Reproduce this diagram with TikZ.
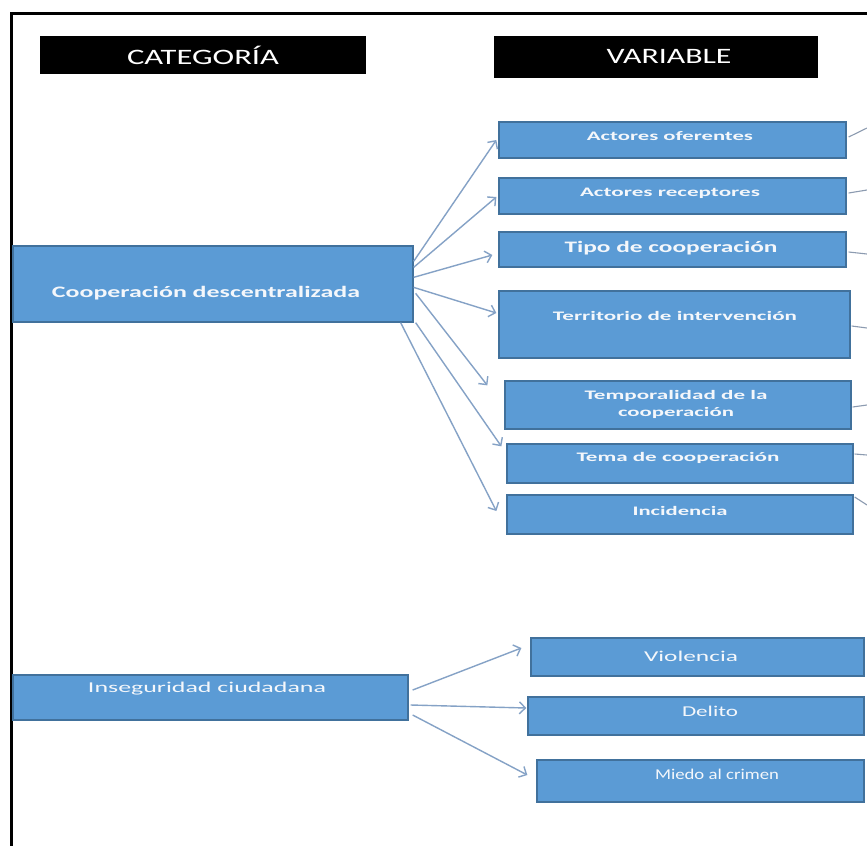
\documentclass[tikz,border=0pt]{standalone}
\usepackage{fontspec}
\setmainfont{Carlito}
\usetikzlibrary{arrows.meta,calc,fit}
\definecolor{boxfill}{HTML}{5B9BD5}
\definecolor{boxline}{HTML}{41719C}
\definecolor{arrcol}{HTML}{85A2C6}
\definecolor{stubcol}{HTML}{8C9BB0}
\definecolor{txtcol}{HTML}{F4F7FB}
\newcommand{\sw}[2]{\resizebox{#1}{\height}{#2}}
\begin{document}
\begin{tikzpicture}[x=1pt,y=-1pt,
  bluebox/.style={draw=boxline, fill=boxfill, line width=1.3pt, inner sep=0pt},
  headbox/.style={fill=black, inner sep=0pt},
  lbl/.style={text=txtcol, inner sep=0pt, font=\bfseries\fontsize{13}{17}\selectfont, align=center},
  hlbl/.style={text=white, inner sep=0pt, font=\fontsize{22}{26}\selectfont},
  rlbl/.style={text=txtcol, inner sep=0pt, font=\fontsize{15}{18}\selectfont},
  arr/.style={draw=arrcol, line width=1.4pt, -{Straight Barb[length=6pt,width=12pt,line width=1.4pt]}},
  stub/.style={draw=stubcol, line width=1.1pt}]
\path[use as bounding box] (0,0) rectangle (867,846);
\fill[white] (0,0) rectangle (867,846);
% frame
\draw[line width=3pt] (867,13) -- (11.5,13) -- (11.5,846);
% headers
\node[headbox, fit={(40,36) (366,74)}] (hcat) {};
\node[hlbl] (tcat) at (203,55) {\sw{152pt}{CATEGORÍA}};
\node[headbox, fit={(494,36) (818,78)}] (hvar) {};
\node[hlbl] (tvar) at (669,56) {\sw{125pt}{VARIABLE}};
% categories
\node[bluebox, fit={(13,246) (413,322)}] (coop) {};
\node[lbl, font=\bfseries\fontsize{16}{18}\selectfont] (tcoop) at (206,293) {\sw{308pt}{Cooperación descentralizada}};
\node[bluebox, fit={(13,675) (408,720)}] (inseg) {};
\node[rlbl] (tinseg) at (207,689) {\sw{238pt}{Inseguridad ciudadana}};
% variables (top)
\node[bluebox, fit={(499,122) (846,158)}] (ofer) {};
\node[lbl] (tofer) at (670,136) {\sw{166pt}{Actores oferentes}};
\node[bluebox, fit={(499,178) (846,214)}] (recep) {};
\node[lbl] (trecep) at (670,193) {\sw{180pt}{Actores receptores}};
\node[bluebox, fit={(499,232) (846,267)}] (tipo) {};
\node[lbl, font=\bfseries\fontsize{16}{18}\selectfont] (ttipo) at (671,248) {\sw{213pt}{Tipo de cooperación}};
\node[bluebox, fit={(499,291) (850,358)}] (terr) {};
\node[lbl] (tterr) at (675,316) {\sw{244pt}{Territorio de intervención}};
\node[bluebox, fit={(505,381) (851,429)}] (temp) {};
\node[lbl] (ttemp) at (676,404) {\sw{183pt}{Temporalidad de la}\\\sw{116pt}{cooperación}};
\node[bluebox, fit={(507,444) (853,483)}] (tema) {};
\node[lbl] (ttema) at (678,458) {\sw{203pt}{Tema de cooperación}};
\node[bluebox, fit={(507,495) (853,534)}] (inc) {};
\node[lbl] (tinc) at (680,511) {\sw{95pt}{Incidencia}};
% variables (bottom)
\node[bluebox, fit={(531,638) (864,676)}] (viol) {};
\node[rlbl] (tviol) at (691,656) {\sw{94pt}{Violencia}};
\node[bluebox, fit={(528,697) (864,735)}] (del) {};
\node[rlbl] (tdel) at (710,711) {\sw{56pt}{Delito}};
\node[bluebox, fit={(537,760) (864,802)}] (miedo) {};
\node[rlbl] (tmiedo) at (717,774) {\sw{124pt}{Miedo al crimen}};
% arrows top
\draw[arr] ($(coop.north east)+(0,16)$) -- ($(ofer.west)+(-2,0)$);
\draw[arr] ($(coop.north east)+(0,22)$) -- ($(recep.west)+(-2,1)$);
\draw[arr] ($(coop.north east)+(0,32)$) -- ($(tipo.west)+(-6,5.5)$);
\draw[arr] ($(coop.north east)+(0,42)$) -- ($(terr.west)+(-2,-11.5)$);
\draw[arr] ($(coop.north east)+(2,48)$) -- ($(temp.north west)+(-17,5)$);
\draw[arr] ($(coop.south east)+(2,0)$) -- ($(tema.north west)+(-5,3)$);
\draw[arr] ($(coop.south east)+(-13,0)$) -- ($(inc.west)+(-10,-3.5)$);
% arrows bottom
\draw[arr] ($(inseg.east)+(4,-7.5)$) -- ($(viol.west)+(-9,-9)$);
\draw[arr] ($(inseg.east)+(2,7.5)$) -- ($(del.west)+(-1,-8)$);
\draw[arr] ($(inseg.east)+(4,17.5)$) -- ($(miedo.west)+(-9,-6)$);
% stubs to the right edge
\coordinate (r1) at (867,128);
\coordinate (r2) at (867,190);
\coordinate (r3) at (867,254);
\coordinate (r4) at (867,328);
\coordinate (r5) at (867,405);
\coordinate (r6) at (867,455);
\coordinate (r7) at (867,505);
\draw[stub] ($(ofer.east)+(2,-3)$) -- (r1);
\draw[stub] ($(recep.east)+(2,-3)$) -- (r2);
\draw[stub] ($(tipo.east)+(2,2.5)$) -- (r3);
\draw[stub] ($(terr.east)+(1,1.5)$) -- (r4);
\draw[stub] ($(temp.east)+(1,2)$) -- (r5);
\draw[stub] ($(tema.east)+(1,-9.5)$) -- (r6);
\draw[stub] ($(inc.east)+(1,-17.5)$) -- (r7);
\end{tikzpicture}
\end{document}
